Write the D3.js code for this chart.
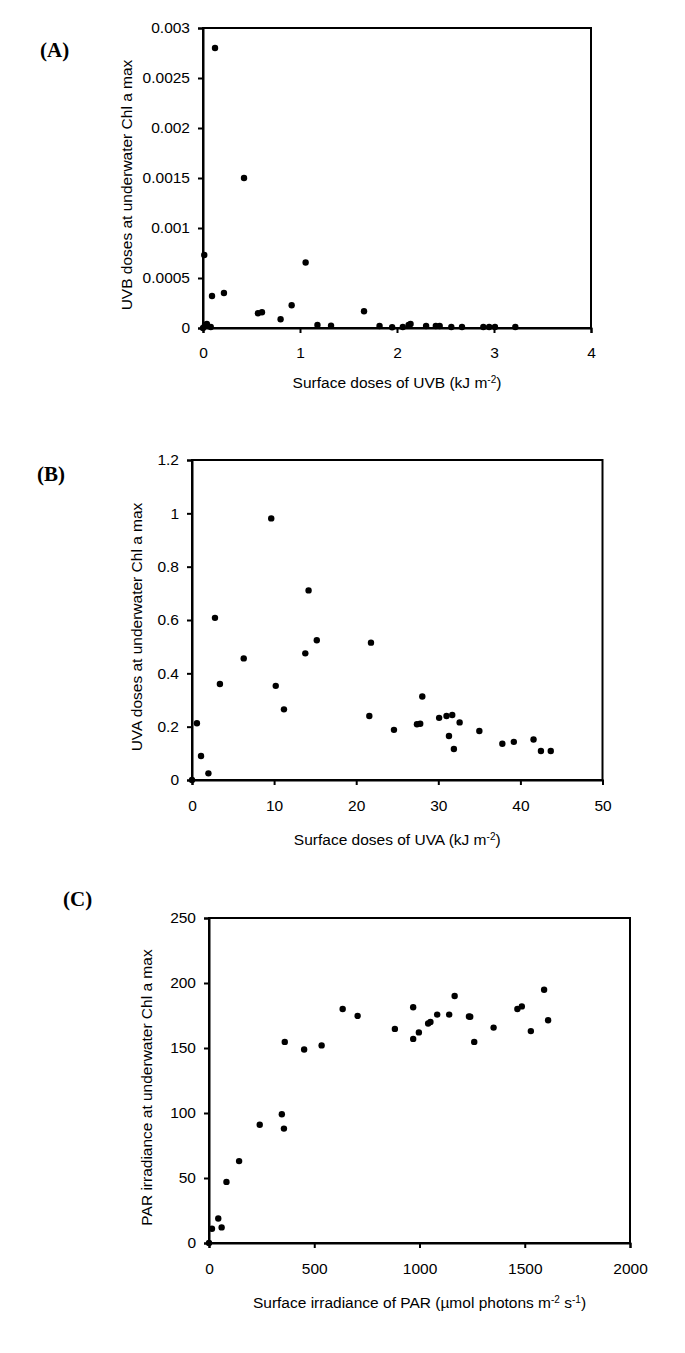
<!DOCTYPE html>
<html>
<head>
<meta charset="utf-8">
<script src="https://cdn.jsdelivr.net/npm/d3@7"></script>
<style>
  body { margin: 0; background: #fff; }
  svg { display: block; }
  .tick text { font-family: "Liberation Sans", Arial, sans-serif; font-size: 15.5px; fill: #000; }
  .lab { font-family: "Liberation Sans", Arial, sans-serif; font-size: 15.5px; fill: #000; }
  .panel { font-family: "Liberation Serif", "Times New Roman", serif; font-size: 21px; font-weight: bold; fill: #000; }
</style>
</head>
<body>
<svg id="chart" width="685" height="1353"></svg>
<script>
// (A) UVB
var uvbSurface = [0.124, 0.423, 0.013, 0.093, 0.216, 0.567, 0.608, 0.80, 0.914, 1.058, 1.18, 1.32, 1.66, 1.82, 1.95, 2.06, 2.12, 2.14, 2.30, 2.40, 2.44, 2.56, 2.67, 2.89, 2.95, 3.01, 3.22, 0.0, 0.02, 0.04, 0.08];
var uvbChl = [0.0028, 0.0015, 0.00073, 0.00032, 0.00035, 0.000147, 0.000157, 0.000087, 0.000228, 0.000655, 0.00003, 0.000023, 0.000167, 0.00002, 0.000007, 0.00001, 0.00003, 0.00004, 0.00002, 0.00002, 0.00002, 0.00001, 0.00001, 0.00001, 0.00001, 0.00001, 0.00001, 0.0, 0.00003, 0.00004, 0.00001];
var uvbXTicks = [0, 1, 2, 3, 4];
var uvbYTicks = [0, 0.0005, 0.001, 0.0015, 0.002, 0.0025, 0.003];

// (B) UVA
var uvaSurface = [0, 0.6, 1.1, 2.0, 2.8, 3.4, 6.3, 9.65, 10.2, 11.2, 14.2, 13.8, 15.2, 21.8, 21.6, 24.6, 27.4, 27.8, 28.05, 30.1, 31.0, 31.7, 31.3, 31.9, 32.6, 35.0, 37.8, 39.2, 41.6, 42.5, 43.7];
var uvaChl = [0, 0.213, 0.09, 0.025, 0.608, 0.36, 0.456, 0.981, 0.353, 0.265, 0.711, 0.475, 0.524, 0.515, 0.24, 0.188, 0.209, 0.211, 0.313, 0.233, 0.24, 0.244, 0.165, 0.116, 0.216, 0.184, 0.136, 0.143, 0.152, 0.109, 0.109];
var uvaXTicks = [0, 10, 20, 30, 40, 50];
var uvaYTicks = [0, 0.2, 0.4, 0.6, 0.8, 1, 1.2];

// (C) PAR
var parSurface = [0, 14, 44, 60, 83, 143, 241, 346, 356, 360, 452, 535, 635, 706, 883, 970, 970, 997, 1041, 1052, 1084, 1141, 1167, 1235, 1241, 1260, 1352, 1465, 1486, 1529, 1592, 1611];
var parChl = [0, 11, 18.8, 12, 47, 63, 91, 99, 88, 154.7, 148.8, 152, 180, 174.7, 164.7, 181.4, 157, 162, 168.8, 170, 175.7, 175.7, 190, 174.2, 174, 154.7, 165.7, 180, 182, 163, 194.8, 171.4];
var parXTicks = [0, 500, 1000, 1500, 2000];
var parYTicks = [0, 50, 100, 150, 200, 250];

var svg = d3.select("#chart");

var panels = [
  {tag: "(A)", tagX: 40, tagY: 57, xs: uvbSurface, ys: uvbChl, xTicks: uvbXTicks, yTicks: uvbYTicks,
   xMax: 4, yMax: 0.003, left: 203, top: 28, right: 591, bottom: 328, yLabCx: 127,
   yLabel: "UVB doses at underwater Chl a max", xLabel: ["Surface doses of UVB (kJ m", "-2", ")"],
   tickY: 358, xLabY: 388},
  {tag: "(B)", tagX: 37, tagY: 481, xs: uvaSurface, ys: uvaChl, xTicks: uvaXTicks, yTicks: uvaYTicks,
   xMax: 50, yMax: 1.2, left: 192, top: 460, right: 602.5, bottom: 780, yLabCx: 137,
   yLabel: "UVA doses at underwater Chl a max", xLabel: ["Surface doses of UVA (kJ m", "-2", ")"],
   tickY: 811, xLabY: 845},
  {tag: "(C)", tagX: 63, tagY: 906, xs: parSurface, ys: parChl, xTicks: parXTicks, yTicks: parYTicks,
   xMax: 2000, yMax: 250, left: 209, top: 918, right: 630, bottom: 1243, yLabCx: 147,
   yLabel: "PAR irradiance at underwater Chl a max", xLabel: ["Surface irradiance of PAR (\u00b5mol photons m", "-2", " s", "-1", ")"],
   tickY: 1274, xLabY: 1308}
];

panels.forEach(function(p) {
  var x = d3.scaleLinear().domain([0, p.xMax]).range([p.left, p.right]);
  var y = d3.scaleLinear().domain([0, p.yMax]).range([p.bottom, p.top]);
  var g = svg.append("g");

  g.append("text").attr("class", "panel")
    .attr("x", p.tagX).attr("y", p.tagY).text(p.tag);

  // frame
  g.append("rect")
    .attr("x", p.left).attr("y", p.top)
    .attr("width", p.right - p.left).attr("height", p.bottom - p.top)
    .attr("fill", "none").attr("stroke", "#000").attr("stroke-width", 2);

  var xAxis = g.append("g")
    .attr("transform", "translate(0," + p.bottom + ")")
    .call(d3.axisBottom(x).tickValues(p.xTicks).tickSize(5).tickPadding(p.tickY - p.bottom - 16)
      .tickFormat(d3.format("")));
  var yAxis = g.append("g")
    .attr("transform", "translate(" + p.left + ",0)")
    .call(d3.axisLeft(y).tickValues(p.yTicks).tickSize(5).tickPadding(8)
      .tickFormat(function(d) { return String(+d.toFixed(6)); }));
  [xAxis, yAxis].forEach(function(a) {
    a.select(".domain").attr("stroke-width", 2);
    a.selectAll(".tick line").attr("stroke-width", 2);
  });

  // y label
  g.append("text").attr("class", "lab")
    .attr("transform", "translate(" + p.yLabCx + "," + ((p.top + p.bottom) / 2 + 7) + ") rotate(-90)")
    .attr("text-anchor", "middle").attr("dy", "0.35em")
    .text(p.yLabel);

  // x label with superscripts
  var xl = g.append("text").attr("class", "lab")
    .attr("x", (p.left + p.right) / 2).attr("y", p.xLabY)
    .attr("text-anchor", "middle");
  p.xLabel.forEach(function(s, i) {
    var t = xl.append("tspan").text(s);
    if (i % 2 === 1) t.attr("baseline-shift", "super").attr("font-size", "10px");
  });

  g.selectAll("circle.dot")
    .data(p.xs.map(function(d, i) { return [d, p.ys[i]]; }))
    .enter().append("circle")
    .attr("class", "dot")
    .attr("cx", function(d) { return x(d[0]); })
    .attr("cy", function(d) { return y(d[1]); })
    .attr("r", 3.2)
    .attr("fill", "#000");
});
</script>
</body>
</html>
